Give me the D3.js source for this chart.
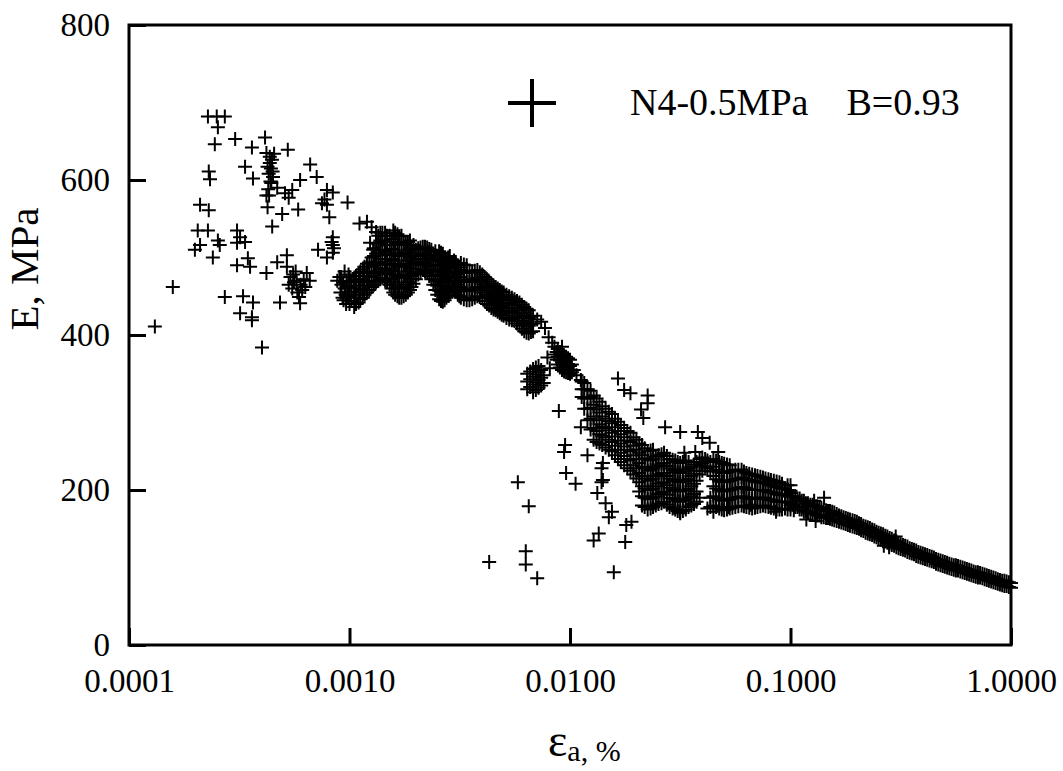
<!DOCTYPE html>
<html><head><meta charset="utf-8">
<script src="https://cdn.jsdelivr.net/npm/d3@7/dist/d3.min.js"></script>
<style>body{margin:0;background:#fff}svg{display:block}text{font-family:"Liberation Serif","Times New Roman",serif;fill:#000}</style>
</head><body><svg id="c" width="1063" height="771"></svg>
<script>
const xTicks = [0.0001, 0.001, 0.01, 0.1, 1];
const xTickLabels = ["0.0001", "0.0010", "0.0100", "0.1000", "1.0000"];
const yTicks = [0, 200, 400, 600, 800];
const legendLabel = "N4-0.5MPa    B=0.93";
const yTitle = "E, MPa";

// sparse points at small strain
const scatterSmall = [
[0.000131,411],[0.000158,462],
[0.000228,682],[0.000250,682],[0.000272,682],[0.000253,668],[0.000245,646],[0.000303,653],[0.000361,642],[0.000414,655],
[0.000435,630],[0.000435,622],[0.000440,615],[0.000430,608],[0.000445,626],[0.000425,617],[0.000450,604],[0.000438,598],[0.000455,634],[0.000448,611],
[0.000420,635],[0.000428,588],[0.000432,580],[0.000442,596],
[0.000525,639],[0.000663,620],[0.000710,604],[0.000230,611],[0.000233,601],[0.000336,617],[0.000365,602],
[0.000420,580],[0.000425,565],[0.000510,583],[0.000550,587],[0.000597,600],[0.000495,556],[0.000585,562],[0.000446,540],[0.000470,590],[0.000530,577],
[0.000790,587],[0.000840,584],[0.000750,570],[0.000790,568],[0.000810,552],[0.000980,571],[0.000770,575],
[0.000210,568],[0.000230,561],[0.000205,535],[0.000228,535],[0.000210,516],[0.000199,510],[0.000240,500],[0.000253,522],[0.000258,516],
[0.000309,535],[0.000319,526],[0.000309,519],[0.000336,520],[0.000309,490],[0.000346,499],[0.000354,488],
[0.000272,449],[0.000329,450],[0.000365,442],[0.000319,428],[0.000361,423],[0.000361,419],[0.000401,384],[0.000484,442],
[0.000420,480],[0.000470,494],[0.000520,503],
[0.000520,488],[0.000540,475],[0.000560,468],[0.000550,460],[0.000580,455],[0.000600,465],[0.000620,472],[0.000640,480],[0.000570,482],[0.000610,458],[0.000590,449],[0.000630,462],[0.000660,470],[0.000530,465],[0.000597,441],[0.000555,478],[0.000575,470],
[0.000720,510],[0.000790,500],[0.000840,526],[0.000840,516],[0.000840,506],[0.000830,520],[0.000850,512],
[0.000900,475],[0.000920,465],[0.000910,455],[0.000930,448],[0.000950,460],[0.000970,470],[0.000960,452],[0.000990,478],[0.000940,445],[0.000980,462],[0.000880,470],[0.000950,482],
[0.000965,440],[0.000935,468],[0.000985,450],[0.000915,475],
[0.00111,544],[0.00120,546],[0.00124,519],[0.00128,510],[0.00126,539],[0.00132,533]
];

// dense band between 0.001 and 0.007
const bandMid = [
[0.00100,440],[0.00100,452],[0.00100,463],[0.00100,475],
[0.00102,444],[0.00102,456],[0.00102,468],
[0.00105,436],[0.00105,448],[0.00105,460],[0.00105,472],
[0.00107,440],[0.00107,452],[0.00107,464],[0.00107,476],
[0.00110,442],[0.00110,455],[0.00110,468],[0.00110,480],
[0.00112,446],[0.00112,458],[0.00112,470],[0.00112,482],
[0.00115,448],[0.00115,460],[0.00115,472],[0.00115,485],
[0.00117,452],[0.00117,464],[0.00117,476],[0.00117,488],
[0.00120,455],[0.00120,468],[0.00120,480],[0.00120,492],
[0.00123,458],[0.00123,470],[0.00123,482],[0.00123,494],
[0.00126,462],[0.00126,475],[0.00126,488],[0.00126,500],
[0.00129,465],[0.00129,477],[0.00129,490],[0.00129,502],[0.00129,512],
[0.00132,468],[0.00132,480],[0.00132,492],[0.00132,505],[0.00132,518],
[0.00135,470],[0.00135,482],[0.00135,494],[0.00135,506],[0.00135,518],[0.00135,528],
[0.00138,472],[0.00138,485],[0.00138,498],[0.00138,510],[0.00138,522],[0.00138,532],
[0.00141,474],[0.00141,486],[0.00141,498],[0.00141,510],[0.00141,522],[0.00141,532],
[0.00145,470],[0.00145,482],[0.00145,495],[0.00145,508],[0.00145,520],[0.00145,532],
[0.00148,468],[0.00148,480],[0.00148,492],[0.00148,504],[0.00148,516],[0.00148,528],
[0.00152,465],[0.00152,478],[0.00152,490],[0.00152,503],[0.00152,516],[0.00152,528],
[0.00155,460],[0.00155,472],[0.00155,485],[0.00155,498],[0.00155,511],[0.00155,524],
[0.00158,455],[0.00158,468],[0.00158,482],[0.00158,496],[0.00158,510],[0.00158,524],[0.00158,535],
[0.00161,452],[0.00161,465],[0.00161,478],[0.00161,492],[0.00161,506],[0.00161,520],[0.00161,532],
[0.00165,450],[0.00165,462],[0.00165,476],[0.00165,490],[0.00165,504],[0.00165,518],[0.00165,530],
[0.00168,448],[0.00168,460],[0.00168,474],[0.00168,488],[0.00168,502],[0.00168,516],[0.00168,527],
[0.00172,448],[0.00172,460],[0.00172,474],[0.00172,488],[0.00172,502],[0.00172,516],[0.00172,528],
[0.00176,450],[0.00176,462],[0.00176,476],[0.00176,490],[0.00176,504],[0.00176,518],
[0.00180,452],[0.00180,465],[0.00180,478],[0.00180,492],[0.00180,506],[0.00180,520],
[0.00184,455],[0.00184,468],[0.00184,482],[0.00184,496],[0.00184,509],[0.00184,520],
[0.00188,458],[0.00188,472],[0.00188,486],[0.00188,500],[0.00188,512],[0.00188,522],
[0.00191,462],[0.00191,476],[0.00191,490],[0.00191,503],[0.00191,514],
[0.00195,466],[0.00195,480],[0.00195,494],[0.00195,506],[0.00195,516],
[0.00200,472],[0.00200,485],[0.00200,498],[0.00200,510],
[0.00205,478],[0.00205,490],[0.00205,502],[0.00205,512],
[0.00210,481],[0.00210,492],[0.00210,503],[0.00210,513],
[0.00215,484],[0.00215,495],[0.00215,505],[0.00215,514],
[0.00220,482],[0.00220,493],[0.00220,504],[0.00220,514],
[0.00225,480],[0.00225,492],[0.00225,503],[0.00225,513],
[0.00230,476],[0.00230,488],[0.00230,500],[0.00230,511],
[0.00235,472],[0.00235,485],[0.00235,498],[0.00235,510],
[0.00240,465],[0.00240,477],[0.00240,490],[0.00240,503],
[0.00245,458],[0.00245,470],[0.00245,483],[0.00245,496],[0.00245,508],
[0.00250,452],[0.00250,464],[0.00250,477],[0.00250,490],[0.00250,502],
[0.00255,446],[0.00255,458],[0.00255,471],[0.00255,484],[0.00255,497],[0.00255,508],
[0.00260,444],[0.00260,456],[0.00260,469],[0.00260,482],[0.00260,495],[0.00260,506],
[0.00265,443],[0.00265,455],[0.00265,468],[0.00265,481],[0.00265,494],[0.00265,505],
[0.00270,445],[0.00270,457],[0.00270,470],[0.00270,483],[0.00270,496],
[0.00275,448],[0.00275,460],[0.00275,473],[0.00275,486],[0.00275,498],
[0.00280,451],[0.00280,464],[0.00280,476],[0.00280,489],[0.00280,500],
[0.00285,455],[0.00285,468],[0.00285,480],[0.00285,492],[0.00285,502],
[0.00291,458],[0.00291,470],[0.00291,482],[0.00291,494],
[0.00298,462],[0.00298,474],[0.00298,486],[0.00298,496],
[0.00304,456],[0.00304,468],[0.00304,480],[0.00304,492],
[0.00310,452],[0.00310,465],[0.00310,478],[0.00310,490],
[0.00315,450],[0.00315,462],[0.00315,475],[0.00315,487],
[0.00320,448],[0.00320,460],[0.00320,472],[0.00320,484],[0.00320,493],
[0.00330,446],[0.00330,458],[0.00330,470],[0.00330,482],[0.00330,491],
[0.00340,445],[0.00340,456],[0.00340,468],[0.00340,480],[0.00340,490],
[0.00350,445],[0.00350,457],[0.00350,469],[0.00350,481],
[0.00360,446],[0.00360,458],[0.00360,470],[0.00360,482],
[0.00370,448],[0.00370,460],[0.00370,472],[0.00370,483],
[0.00380,450],[0.00380,462],[0.00380,474],[0.00380,484],
[0.00390,449],[0.00390,460],[0.00390,471],[0.00390,481],
[0.00400,448],[0.00400,458],[0.00400,468],[0.00400,478],
[0.00410,444],[0.00410,455],[0.00410,465],[0.00410,475],
[0.00420,440],[0.00420,452],[0.00420,462],[0.00420,472],
[0.00430,438],[0.00430,449],[0.00430,459],[0.00430,469],
[0.00440,435],[0.00440,446],[0.00440,456],[0.00440,466],
[0.00450,433],[0.00450,444],[0.00450,454],[0.00450,464],
[0.00460,432],[0.00460,442],[0.00460,452],[0.00460,462],
[0.00470,430],[0.00470,440],[0.00470,450],[0.00470,460],
[0.00480,428],[0.00480,438],[0.00480,448],[0.00480,458],
[0.00490,426],[0.00490,436],[0.00490,446],[0.00490,456],
[0.00500,425],[0.00500,435],[0.00500,445],[0.00500,455],
[0.00515,422],[0.00515,432],[0.00515,442],[0.00515,452],
[0.00530,420],[0.00530,430],[0.00530,440],[0.00530,450],
[0.00545,419],[0.00545,429],[0.00545,439],[0.00545,448],
[0.00560,418],[0.00560,428],[0.00560,438],[0.00560,446],
[0.00575,415],[0.00575,425],[0.00575,435],[0.00575,444],
[0.00590,412],[0.00590,422],[0.00590,432],[0.00590,442],
[0.00605,408],[0.00605,418],[0.00605,428],[0.00605,439],
[0.00620,405],[0.00620,415],[0.00620,425],[0.00620,436],
[0.00635,403],[0.00635,413],[0.00635,423],[0.00635,434],
[0.00650,402],[0.00650,412],[0.00650,422],[0.00650,432],
[0.00665,404],[0.00665,414],[0.00665,424],
[0.00680,405],[0.00680,415],[0.00680,425]
];

// drop near 0.006-0.02
const bandDrop = [
[0.0064,330],[0.0064,340],[0.0064,350],[0.0066,333],[0.0066,343],[0.0066,353],
[0.0068,326],[0.0068,336],[0.0068,346],[0.0068,356],[0.0070,329],[0.0070,339],[0.0070,349],[0.0070,358],
[0.0072,332],[0.0072,342],[0.0072,352],[0.0072,360],[0.0074,335],[0.0074,345],[0.0074,355],[0.0076,338],[0.0076,348],
[0.0071,420],[0.0074,417],[0.0077,409],[0.0080,397],[0.0083,390],[0.0079,371],[0.0081,357],
[0.0085,375],[0.0085,385],[0.0087,368],[0.0087,378],[0.0088,362],[0.0088,372],[0.0088,382],
[0.0090,358],[0.0090,368],[0.0090,378],[0.0092,355],[0.0092,365],[0.0092,375],[0.0092,385],
[0.0094,353],[0.0094,363],[0.0094,373],[0.0096,352],[0.0096,362],[0.0096,372],
[0.0098,351],[0.0098,361],[0.0098,370],[0.0100,350],[0.0100,360],[0.0100,368],
[0.0102,352],[0.0102,362],[0.0104,355],[0.0107,348],[0.0112,342],
[0.0113,320],[0.0113,330],[0.0113,340],
[0.0116,305],[0.0116,318],[0.0116,330],[0.0116,338],
[0.0120,290],[0.0120,305],[0.0120,318],[0.0120,330],
[0.0124,278],[0.0124,292],[0.0124,306],[0.0124,320],[0.0124,328],
[0.0128,265],[0.0128,280],[0.0128,295],[0.0128,310],[0.0128,322],
[0.0132,262],[0.0132,276],[0.0132,290],[0.0132,304],[0.0132,318],
[0.0136,260],[0.0136,272],[0.0136,285],[0.0136,300],[0.0136,314],
[0.0140,258],[0.0140,270],[0.0140,282],[0.0140,295],[0.0140,308],
[0.0145,255],[0.0145,268],[0.0145,280],[0.0145,292],[0.0145,305],
[0.0150,252],[0.0150,265],[0.0150,277],[0.0150,289],[0.0150,301],
[0.0155,250],[0.0155,262],[0.0155,274],[0.0155,286],[0.0155,298],
[0.0160,245],[0.0160,257],[0.0160,269],[0.0160,281],[0.0160,292],
[0.0165,240],[0.0165,252],[0.0165,264],[0.0165,276],[0.0165,288],
[0.0170,236],[0.0170,248],[0.0170,260],[0.0170,272],[0.0170,284],
[0.0176,232],[0.0176,244],[0.0176,256],[0.0176,268],[0.0176,280],
[0.0182,228],[0.0182,240],[0.0182,252],[0.0182,264],[0.0182,276],
[0.0188,225],[0.0188,238],[0.0188,250],[0.0188,262],[0.0188,274],
[0.0194,220],[0.0194,232],[0.0194,245],[0.0194,257],[0.0194,268],
[0.0200,215],[0.0200,228],[0.0200,240],[0.0200,252],[0.0200,265],
[0.0206,198],[0.0206,210],[0.0206,222],[0.0206,235],[0.0206,248],[0.0206,260]
];

// plateau 0.02 - 0.1
const bandPlateau = [
[0.0212,180],[0.0212,192],[0.0212,205],[0.0212,218],[0.0212,230],[0.0212,245],[0.0212,258],
[0.0218,178],[0.0218,190],[0.0218,202],[0.0218,215],[0.0218,228],[0.0218,241],[0.0218,254],
[0.0225,175],[0.0225,188],[0.0225,200],[0.0225,212],[0.0225,225],[0.0225,238],[0.0225,250],
[0.0232,176],[0.0232,189],[0.0232,201],[0.0232,214],[0.0232,226],[0.0232,239],[0.0232,251],
[0.0238,178],[0.0238,190],[0.0238,202],[0.0238,215],[0.0238,228],[0.0238,240],[0.0238,252],
[0.0245,180],[0.0245,192],[0.0245,205],[0.0245,218],[0.0245,230],[0.0245,243],
[0.0252,182],[0.0252,195],[0.0252,208],[0.0252,220],[0.0252,232],[0.0252,245],
[0.0260,183],[0.0260,196],[0.0260,209],[0.0260,221],[0.0260,234],[0.0260,246],
[0.0267,185],[0.0267,198],[0.0267,210],[0.0267,222],[0.0267,235],[0.0267,248],
[0.0275,181],[0.0275,194],[0.0275,206],[0.0275,218],[0.0275,231],[0.0275,244],
[0.0283,178],[0.0283,190],[0.0283,203],[0.0283,215],[0.0283,228],[0.0283,240],
[0.0292,176],[0.0292,189],[0.0292,201],[0.0292,213],[0.0292,226],[0.0292,239],
[0.0300,175],[0.0300,188],[0.0300,200],[0.0300,212],[0.0300,225],[0.0300,238],
[0.0308,173],[0.0308,186],[0.0308,199],[0.0308,211],[0.0308,223],[0.0308,236],
[0.0316,172],[0.0316,185],[0.0316,198],[0.0316,210],[0.0316,222],[0.0316,235],
[0.0325,173],[0.0325,186],[0.0325,199],[0.0325,211],[0.0325,224],[0.0325,236],
[0.0335,175],[0.0335,188],[0.0335,200],[0.0335,213],[0.0335,226],[0.0335,238],
[0.0345,178],[0.0345,190],[0.0345,202],[0.0345,215],[0.0345,228],[0.0345,236],
[0.0355,180],[0.0355,192],[0.0355,205],[0.0355,218],[0.0355,230],
[0.0365,182],[0.0365,195],[0.0365,208],[0.0365,221],[0.0365,233],
[0.0375,185],[0.0375,198],[0.0375,212],[0.0375,225],[0.0375,236],
[0.0387,190],[0.0387,220],[0.0387,232],[0.0387,240],
[0.0398,225],[0.0398,235],[0.0398,242],
[0.0410,230],[0.0410,240],
[0.0420,176],[0.0420,228],[0.0420,238],
[0.0433,178],[0.0433,190],[0.0433,224],[0.0433,236],
[0.0447,180],[0.0447,192],[0.0447,205],[0.0447,218],[0.0447,230],[0.0447,240],
[0.0460,178],[0.0460,190],[0.0460,202],[0.0460,214],[0.0460,226],[0.0460,238],
[0.0475,176],[0.0475,188],[0.0475,200],[0.0475,212],[0.0475,224],[0.0475,236],
[0.0488,175],[0.0488,187],[0.0488,199],[0.0488,211],[0.0488,223],[0.0488,235],
[0.0500,174],[0.0500,186],[0.0500,198],[0.0500,210],[0.0500,222],[0.0500,234],
[0.0515,175],[0.0515,187],[0.0515,199],[0.0515,211],[0.0515,223],[0.0515,233],
[0.0530,176],[0.0530,188],[0.0530,200],[0.0530,212],[0.0530,224],[0.0530,232],
[0.0545,177],[0.0545,189],[0.0545,201],[0.0545,213],[0.0545,225],
[0.0562,178],[0.0562,190],[0.0562,202],[0.0562,214],[0.0562,226],
[0.0580,179],[0.0580,191],[0.0580,203],[0.0580,215],[0.0580,226],
[0.0600,180],[0.0600,192],[0.0600,204],[0.0600,216],[0.0600,226],
[0.0615,179],[0.0615,191],[0.0615,203],[0.0615,215],[0.0615,224],
[0.0631,178],[0.0631,190],[0.0631,202],[0.0631,214],[0.0631,222],
[0.0650,177],[0.0650,189],[0.0650,201],[0.0650,213],[0.0650,221],
[0.0670,176],[0.0670,188],[0.0670,200],[0.0670,212],[0.0670,220],
[0.0690,177],[0.0690,189],[0.0690,200],[0.0690,211],[0.0690,219],
[0.0708,178],[0.0708,190],[0.0708,200],[0.0708,210],[0.0708,218],
[0.0730,179],[0.0730,190],[0.0730,200],[0.0730,210],[0.0730,217],
[0.0750,180],[0.0750,190],[0.0750,200],[0.0750,210],[0.0750,216],
[0.0770,179],[0.0770,189],[0.0770,199],[0.0770,209],[0.0770,215],
[0.0794,178],[0.0794,188],[0.0794,198],[0.0794,208],[0.0794,214],
[0.0815,177],[0.0815,187],[0.0815,197],[0.0815,206],[0.0815,213],
[0.0840,176],[0.0840,186],[0.0840,196],[0.0840,205],[0.0840,212],
[0.0865,175],[0.0865,185],[0.0865,195],[0.0865,204],[0.0865,211],
[0.0891,175],[0.0891,185],[0.0891,194],[0.0891,203],[0.0891,210],
[0.0915,175],[0.0915,185],[0.0915,194],[0.0915,202],[0.0915,208],
[0.0944,176],[0.0944,185],[0.0944,194],[0.0944,202],
[0.0970,175],[0.0970,184],[0.0970,192],[0.0970,200],[0.0970,206],
[0.1000,175],[0.1000,183],[0.1000,191],[0.1000,199],[0.1000,206]
];

// tail 0.1 - 1
const bandTail = [
[0.100,180],[0.100,196],[0.105,178],[0.105,192],[0.110,175],[0.110,189],[0.115,172],[0.115,186],[0.120,171],[0.120,183],
[0.126,169],[0.126,181],[0.132,167],[0.132,179],[0.138,165],[0.138,177],[0.145,164],[0.145,174],[0.151,163],[0.151,173],
[0.158,161],[0.158,171],[0.166,159],[0.166,167],[0.174,157],[0.174,165],[0.182,155],[0.182,163],[0.191,153],[0.191,161],
[0.200,151],[0.200,159],[0.209,148],[0.209,156],[0.219,145],[0.219,153],[0.229,143],[0.229,151],[0.240,140],[0.240,148],
[0.251,137],[0.251,145],[0.263,135],[0.263,143],[0.275,132],[0.275,140],[0.288,129],[0.288,137],[0.302,126],[0.302,134],
[0.316,124],[0.316,130],[0.331,122],[0.331,128],[0.347,119],[0.347,125],[0.363,117],[0.363,123],[0.380,114],[0.380,120],
[0.398,112],[0.398,118],[0.417,110],[0.417,116],[0.437,108],[0.437,114],[0.457,105],[0.457,111],[0.479,103],[0.479,109],
[0.501,101],[0.501,107],[0.525,99],[0.525,105],[0.550,97],[0.550,103],[0.575,96],[0.575,102],[0.603,94],[0.603,100],
[0.631,92],[0.631,98],[0.661,90],[0.661,96],[0.692,88],[0.692,94],[0.724,87],[0.724,93],[0.759,85],[0.759,91],
[0.794,83],[0.794,89],[0.832,81],[0.832,87],[0.871,79],[0.871,85],[0.912,77],[0.912,83],[0.955,76],[0.955,82],[1.000,74],[1.000,80],
[0.130,160],[0.142,190],[0.265,128],[0.280,126],[0.300,140],[0.118,162],[0.128,186]
];

const bandTail2 = [
[0.1025,181],[0.1025,191],[0.1075,178],[0.1075,189],[0.1125,175],[0.1125,186],[0.1175,173],[0.1175,183],[0.123,171],[0.123,181],
[0.129,169],[0.129,179],[0.135,167],[0.135,177],[0.1415,165],[0.1415,175],[0.148,164],[0.148,173],[0.1545,162],[0.1545,172],
[0.162,160],[0.162,169],[0.170,158],[0.170,166],[0.178,156],[0.178,164],[0.186,154],[0.186,162],[0.1955,152],[0.1955,160],
[0.2045,150],[0.2045,157],[0.214,147],[0.214,154],[0.224,144],[0.224,152],[0.2345,142],[0.2345,149],[0.2455,139],[0.2455,146],
[0.257,136],[0.257,144],[0.269,134],[0.269,141],[0.2815,131],[0.2815,138],[0.295,128],[0.295,135],[0.309,125],[0.309,132],
[0.3235,123],[0.3235,129],[0.339,120],[0.339,127],[0.355,118],[0.355,124],[0.3715,115],[0.3715,122],[0.389,113],[0.389,119],
[0.4075,111],[0.4075,117],[0.427,109],[0.427,115],[0.447,107],[0.447,113],[0.468,104],[0.468,110],[0.490,102],[0.490,108],
[0.513,100],[0.513,106],[0.5375,98],[0.5375,104],[0.5625,96],[0.5625,103],[0.589,95],[0.589,101],[0.617,93],[0.617,99],
[0.646,91],[0.646,97],[0.6765,89],[0.6765,95],[0.708,87],[0.708,94],[0.7415,86],[0.7415,92],[0.7765,84],[0.7765,90],
[0.813,82],[0.813,88],[0.8515,80],[0.8515,86],[0.891,78],[0.891,84],[0.9335,76],[0.9335,83],[0.9775,75],[0.9775,81]
];

// isolated outliers
const scatterOut = [
[0.0043,107],[0.0058,210],[0.0065,179],[0.0063,121],[0.0063,104],[0.0071,86],[0.0158,94],
[0.0089,302],[0.0094,249],[0.0096,222],[0.0106,208],[0.0112,281],[0.0120,245],[0.0139,228],[0.0139,210],[0.0133,196],
[0.0145,183],[0.0155,172],[0.0190,159],[0.0128,135],[0.0135,144],[0.0178,133],[0.0150,165],[0.0180,155],
[0.0165,344],[0.0176,329],[0.0188,325],[0.0225,322],[0.0225,312],[0.0215,293],[0.0210,304],
[0.0270,281],[0.0316,275],[0.0380,275],[0.0398,267],[0.0430,261],[0.0330,248],[0.0370,249],[0.0470,249],
[0.0316,170],[0.0447,172],[0.0525,178],[0.0660,181],[0.0860,172],[0.1035,174],
[0.0141,235],[0.0141,213],[0.0095,258]
];

const svg = d3.select("#c");
const L = 129, R = 1011, T = 25, B = 645;
const x = d3.scaleLog().domain([0.0001, 1]).range([L, R]);
const y = d3.scaleLinear().domain([0, 800]).range([B, T]);

const allPts = [].concat(scatterSmall, bandMid, bandDrop, bandPlateau, bandTail, bandTail2, scatterOut);
const plus = "M-7,0H7M0,-7V7";
svg.append("g").selectAll("path").data(allPts).join("path")
  .attr("d", plus)
  .attr("transform", d => `translate(${x(d[0])},${y(d[1])})`)
  .attr("stroke", "#000").attr("stroke-width", 2).attr("fill", "none");

// axes
const xa = svg.append("g").attr("transform", `translate(0,${B})`)
  .call(d3.axisBottom(x).tickValues(xTicks).tickFormat((d, i) => xTickLabels[i]).tickSizeInner(-17).tickSizeOuter(0).tickPadding(24));
xa.select(".domain").remove();
xa.selectAll(".tick line").attr("stroke", "#000").attr("stroke-width", 3);
xa.selectAll(".tick text").attr("font-size", 33).attr("font-family", "Liberation Serif");

const ya = svg.append("g").attr("transform", `translate(${L},0)`)
  .call(d3.axisLeft(y).tickValues(yTicks).tickFormat(d3.format("d")).tickSizeInner(-17).tickSizeOuter(0).tickPadding(19));
ya.select(".domain").remove();
ya.selectAll(".tick line").attr("stroke", "#000").attr("stroke-width", 3);
ya.selectAll(".tick text").attr("font-size", 33).attr("font-family", "Liberation Serif");

svg.append("rect").attr("x", L).attr("y", T).attr("width", R - L).attr("height", B - T)
  .attr("fill", "none").attr("stroke", "#000").attr("stroke-width", 3);

// legend
svg.append("path").attr("d", "M-24,0H24M0,-24V24").attr("transform", "translate(532,103)")
  .attr("stroke", "#000").attr("stroke-width", 4);
svg.append("text").attr("x", 630).attr("y", 115).attr("font-size", 38).attr("xml:space", "preserve")
  .style("white-space", "pre").text(legendLabel);

// axis titles
svg.append("text").attr("transform", "translate(38,269) rotate(-90)").attr("text-anchor", "middle")
  .attr("font-size", 41).text(yTitle);
const xt = svg.append("text").attr("x", 548).attr("y", 756).attr("font-size", 46);
xt.append("tspan").text("ε");
xt.append("tspan").attr("font-size", 30).attr("dy", 5).text("a, %");
</script></body></html>
